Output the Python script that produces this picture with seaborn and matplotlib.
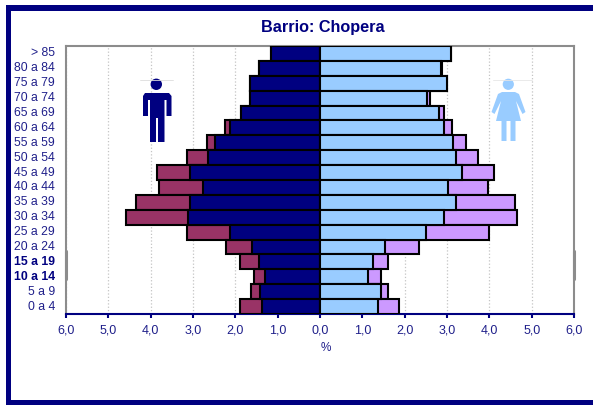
import matplotlib
matplotlib.use("Agg")
import matplotlib.pyplot as plt
import seaborn as sns
from matplotlib.patches import Circle, Polygon, Rectangle
from matplotlib.transforms import ScaledTranslation

sns.set_style("white")
plt.rcParams['font.family'] = ['Liberation Sans', 'DejaVu Sans']

ages = ["> 85", "80 a 84", "75 a 79", "70 a 74", "65 a 69", "60 a 64", "55 a 59", "50 a 54", "45 a 49",
        "40 a 44", "35 a 39", "30 a 34", "25 a 29", "20 a 24", "15 a 19", "10 a 14", "5 a 9", "0 a 4"]
# inner = dark part of the bar, outer = where the whole bar ends
men_inner = [1.15, 1.44, 1.66, 1.66, 1.86, 2.13, 2.49, 2.65, 3.06, 2.77, 3.06, 3.12, 2.13, 1.61, 1.43, 1.31, 1.41, 1.36]
men_outer = [1.15, 1.44, 1.66, 1.66, 1.86, 2.25, 2.68, 3.14, 3.84, 3.81, 4.35, 4.58, 3.14, 2.23, 1.89, 1.56, 1.63, 1.90]
women_inner = [3.09, 2.85, 3.01, 2.52, 2.81, 2.92, 3.13, 3.22, 3.36, 3.03, 3.22, 2.93, 2.50, 1.53, 1.25, 1.13, 1.43, 1.37]
women_outer = [3.09, 2.89, 3.01, 2.59, 2.92, 3.11, 3.45, 3.73, 4.10, 3.98, 4.60, 4.65, 3.99, 2.34, 1.60, 1.43, 1.60, 1.86]
x_ticks = [-6, -5, -4, -3, -2, -1, 0, 1, 2, 3, 4, 5, 6]
x_labels = ["6,0", "5,0", "4,0", "3,0", "2,0", "1,0", "0,0", "1,0", "2,0", "3,0", "4,0", "5,0", "6,0"]
bold_ages = ["15 a 19", "10 a 14"]

navy = "#000080"
text_col = "#1f1f8a"
W, H = 593, 405

fig = plt.figure(figsize=(W / 100, H / 100), dpi=100)
ax = fig.add_axes([66 / W, 1 - 314 / H, (574 - 66) / W, (314 - 46) / H])

bars = dict(orient="h", width=1.0, edgecolor="black", linewidth=1.5, ax=ax, zorder=3)
sns.barplot(x=[-v for v in men_outer], y=ages, color="#993366", saturation=1, **bars)
sns.barplot(x=[-v for v in men_inner], y=ages, color=navy, saturation=1, **bars)
sns.barplot(x=women_outer, y=ages, color="#CC99FF", saturation=1, **bars)
sns.barplot(x=women_inner, y=ages, color="#99CCFF", saturation=1, **bars)

ax.set_xlim(-6, 6)
ax.set_ylim(17.5, -0.5)
ax.set_xticks(x_ticks)
ax.set_xticklabels(x_labels, fontsize=9, color=text_col)
ax.tick_params(axis="x", length=3, width=1.5, color=navy, pad=4.5, bottom=True)
ax.tick_params(axis="y", length=0, pad=8)
up = ScaledTranslation(0, 1.5 / 100, fig.dpi_scale_trans)
for lab in ax.get_yticklabels():
    lab.set_fontsize(8.8)
    lab.set_color(navy if lab.get_text() in bold_ages else text_col)
    lab.set_fontweight("bold" if lab.get_text() in bold_ages else "normal")
    lab.set_transform(lab.get_transform() + up)
ax.set_xlabel("")
ax.set_ylabel("")
ax.grid(axis="x", color="#c4c4c4", linestyle=":", linewidth=0.9, zorder=0)
ax.set_axisbelow(True)
for s in ["top", "left", "right"]:
    ax.spines[s].set_color("#8c8c8c")
    ax.spines[s].set_linewidth(1.5)
ax.spines["bottom"].set_color(navy)
ax.spines["bottom"].set_linewidth(1.5)

# overlay in pixels for the frame, the title and the two figures
ov = fig.add_axes([0, 0, 1, 1], facecolor="none")
ov.set_xlim(0, W)
ov.set_ylim(H, 0)
ov.axis("off")
ov.add_patch(Rectangle((6, 5), W, 5.5, color=navy, lw=0))
ov.add_patch(Rectangle((6, 5), 5, 400, color=navy, lw=0))
ov.add_patch(Rectangle((6, 400), W, 5, color=navy, lw=0))
ov.text(322.5, 27.5, "Barrio: Chopera", color=navy, fontsize=11.7, fontweight="bold", ha="center", va="center")
ov.text(325.5, 348, "%", color=text_col, fontsize=8.5, ha="center", va="center")

# darker stretch of the side lines
ov.plot([66, 66], [251, 279], color="#8c8c8c", lw=2.2)
ov.plot([574, 574], [251, 279], color="#8c8c8c", lw=2.2)

# man
ov.plot([140, 173], [79.5, 79.5], color="#dddddd", lw=0.6)
ov.add_patch(Circle((156.3, 84.3), 5.7, color=navy, lw=0))
ov.add_patch(Polygon([(145, 93), (169, 93), (171.5, 96), (171.5, 116), (166.5, 116), (166.5, 100), (164.5, 100),
                      (164.5, 142), (158, 142), (158, 118), (156, 118), (156, 142), (150, 142), (150, 100),
                      (148, 100), (148, 116), (143, 116), (143, 96)], color=navy, lw=0))

# woman
woman = "#99CCFF"
ov.plot([493, 532], [79.5, 79.5], color="#e6e6e6", lw=0.6)
ov.add_patch(Circle((508.3, 84.3), 5.6, color=woman, lw=0))
ov.add_patch(Polygon([(502, 92), (515, 92), (519, 94), (525.5, 112), (522.5, 114), (516, 101), (521, 121), (515.5, 121),
                      (515.5, 141), (510.5, 141), (510.5, 121), (506.5, 121), (506.5, 141), (501.5, 141),
                      (501.5, 121), (496, 121), (501, 101), (494.5, 114), (491.5, 112), (498, 94)], color=woman, lw=0))

fig.savefig("out.png", dpi=100)
